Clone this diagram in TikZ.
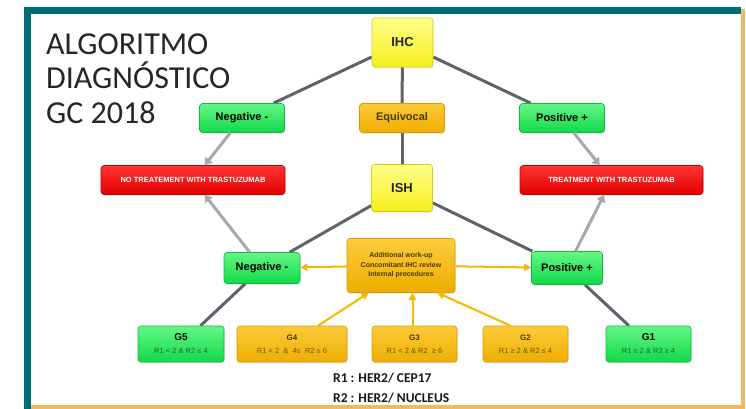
\documentclass[tikz,border=0pt]{standalone}
\usepackage{fontspec}
\setmainfont{Liberation Sans}
\newfontfamily\titlefont{Carlito}
\usetikzlibrary{arrows.meta,backgrounds,shadows,calc}

\definecolor{frameteal}{HTML}{006D75}
\definecolor{frameamber}{HTML}{F0B860}
\definecolor{grntop}{HTML}{63F785}
\definecolor{grnbot}{HTML}{12D84A}
\definecolor{grnline}{HTML}{10B83C}
\definecolor{yeltop}{HTML}{FFFF8A}
\definecolor{yelbot}{HTML}{F4EE1C}
\definecolor{yelline}{HTML}{D8D000}
\definecolor{orgtop}{HTML}{FCCB3A}
\definecolor{orgbot}{HTML}{EEAE00}
\definecolor{orgline}{HTML}{D89C00}
\definecolor{redtop}{HTML}{FF3434}
\definecolor{redbot}{HTML}{E20000}
\definecolor{redline}{HTML}{C20000}
\definecolor{darkconn}{HTML}{5F616B}
\definecolor{lightconn}{HTML}{A6A8B0}
\definecolor{amberconn}{HTML}{F5B800}
\definecolor{grntext}{HTML}{2C5E36}
\definecolor{orgtext}{HTML}{6E5608}
\definecolor{orghead}{HTML}{4A3900}

\begin{document}
\begin{tikzpicture}[x=1pt,y=-1pt,
  box/.style={rounded corners=3pt, draw=#1line, line width=0.6pt,
    top color=#1top, bottom color=#1bot, inner sep=0pt, align=center,
    drop shadow={shadow xshift=0.6pt, shadow yshift=-1.2pt, opacity=0.22},
    font=\bfseries\fontsize{11}{12}\selectfont},
  redbox/.style={box=red, text=white, minimum height=29pt,
    font=\bfseries\fontsize{7.5}{9}\selectfont},
  gbox/.style={box=#1, minimum height=36pt},
  darkline/.style={draw=darkconn, line width=3pt},
  grayarrow/.style={draw=lightconn, line width=3pt,
    -{Triangle[length=7pt,width=9pt]}},
  amberarrow/.style={draw=amberconn, line width=2pt,
    -{Triangle[length=7pt,width=7pt]}},
  titletext/.style={anchor=base west, inner sep=0pt, text=black!85,
    font=\titlefont\fontsize{32}{34}\selectfont},
  keytext/.style={anchor=base west, inner sep=0pt, text=black!90,
    font=\titlefont\bfseries\fontsize{13.5}{15}\selectfont}
]
\useasboundingbox (0,0) rectangle (746,409);

% title
\node[titletext] (t1) at (46,55) {ALGORITMO};
\node[titletext] (t2) at (46,89) {DIAGNÓSTICO};
\node[titletext] (t3) at (46,123) {GC 2018};

% IHC level
\node[box=yel, minimum width=61pt, minimum height=49pt,
      font=\bfseries\fontsize{13}{15}\selectfont, text=black!85] (ihc) at (402.5,42.5) {IHC};
\node[box=grn, minimum width=85pt, minimum height=29pt] (negT) at (242,118) {Negative -};
\node[box=org, minimum width=85pt, minimum height=29pt, text=orghead] (eq) at (402,118) {Equivocal};
\node[box=grn, minimum width=85pt, minimum height=29pt] (posT) at (562,118) {Positive +};

% treatment decisions
\node[redbox, minimum width=184pt] (noT) at (193,180) {NO TREATEMENT WITH TRASTUZUMAB};
\node[redbox, minimum width=183pt] (yesT) at (611.5,180) {TREATMENT WITH TRASTUZUMAB};

% ISH level
\node[box=yel, minimum width=61pt, minimum height=47pt,
      font=\bfseries\fontsize{13}{15}\selectfont, text=black!85] (ish) at (402,188) {ISH};
\node[box=grn, minimum width=76pt, minimum height=31pt] (negM) at (262,268) {Negative -};
\node[box=grn, minimum width=71pt, minimum height=33pt] (posM) at (567,268) {Positive +};
\node[box=org, minimum width=108pt, minimum height=54pt, text=orghead,
      font=\bfseries\fontsize{7}{9.5}\selectfont] (add) at (401,265.5)
      {Additional work-up\\Concomitant IHC review\\Internal procedures};

% ISH groups
\node[gbox=grn, minimum width=86pt] (g5) at (181,344)
  {{\fontsize{10}{11}\selectfont G5}\\[1pt]{\mdseries\color{grntext}\fontsize{7.5}{9}\selectfont R1 < 2 \& R2 ≤ 4}};
\node[gbox=org, minimum width=110pt] (g4) at (292,344)
  {{\color{orghead}\fontsize{8}{10}\selectfont G4}\\[1pt]{\mdseries\color{orgtext}\fontsize{7.5}{9}\selectfont R1 < 2 \ \&\ \ 4≤\ \ R2 ≤ 6}};
\node[gbox=org, minimum width=85pt] (g3) at (414.5,344)
  {{\color{orghead}\fontsize{8}{10}\selectfont G3}\\[1pt]{\mdseries\color{orgtext}\fontsize{7.5}{9}\selectfont R1 < 2 \& R2\ \ ≥ 6}};
\node[gbox=org, minimum width=85pt] (g2) at (525.5,344)
  {{\color{orghead}\fontsize{8}{10}\selectfont G2}\\[1pt]{\mdseries\color{orgtext}\fontsize{7.5}{9}\selectfont R1 ≥ 2 \& R2 ≤ 4}};
\node[gbox=grn, minimum width=85pt] (g1) at (648.5,344)
  {{\fontsize{10}{11}\selectfont G1}\\[1pt]{\mdseries\color{grntext}\fontsize{7.5}{9}\selectfont R1 ≥ 2 \& R2 ≥ 4}};

% key
\node[keytext] (k1) at (333,382) {R1 : HER2/ CEP17};
\node[keytext] (k2) at (333,402) {R2 : HER2/ NUCLEUS};

% slide frame
\begin{scope}[on background layer]
  \fill[white] (0,0) rectangle (746,409);
  \fill[frameamber] (31,405) rectangle (745,409);
  \fill[frameamber] (741,9) rectangle (745,409);
  \fill[frameteal] (24,7) rectangle (741,14);
  \fill[frameteal] (24,7) rectangle (31,409);
\end{scope}

% connectors, kept behind the boxes
\begin{scope}[on background layer]
  \draw[darkline] (ihc) -- (negT);
  \draw[darkline] (ihc) -- (eq);
  \draw[darkline] (ihc) -- (posT);
  \draw[darkline] (eq) -- (ish);
  \draw[darkline] (ish) -- (negM);
  \draw[darkline] (ish) -- (posM);
  \draw[darkline] (g5) -- (negM);
  \draw[darkline] (g1) -- (posM);
\end{scope}
\draw[grayarrow] (negT) -- (noT);
\draw[grayarrow] (negM) -- (noT);
\draw[grayarrow] (posT) -- (yesT);
\draw[grayarrow] (posM) -- (yesT);
\draw[amberarrow] (add) -- (negM);
\draw[amberarrow] (add) -- (posM);
\draw[amberarrow] ($(g4.north)+(26,0)$) -- ($(add.south west)+(22,0)$);
\draw[amberarrow] ($(g3.north)+(-2,0)$) -- ($(g3.north |- add.south)+(-2,0)$);
\draw[amberarrow] ($(g2.north)+(-15,0)$) -- ($(add.south east)+(-18,0)$);
\end{tikzpicture}
\end{document}
